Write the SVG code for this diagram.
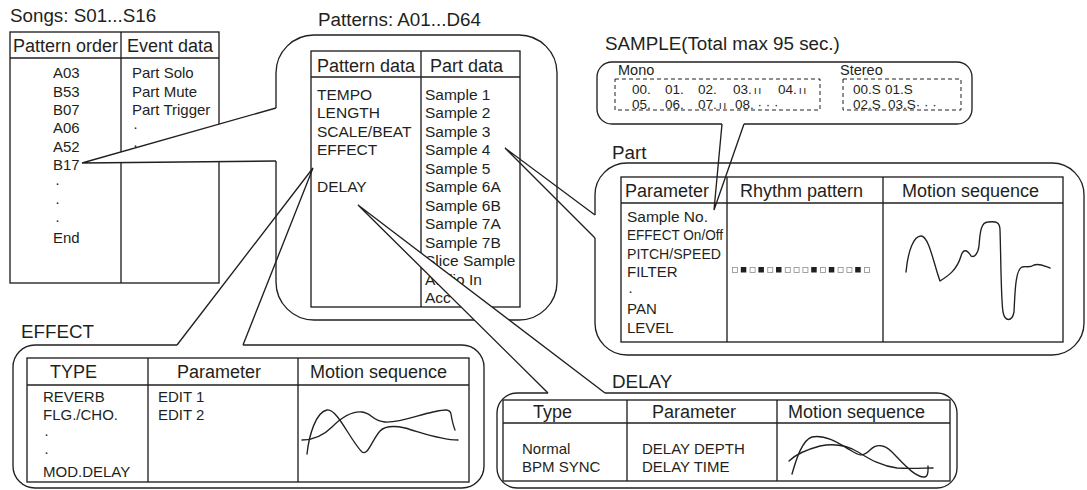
<svg xmlns="http://www.w3.org/2000/svg" width="1087" height="490" viewBox="0 0 1087 490">
<style>
text{font-family:"Liberation Sans",Arial,Helvetica,sans-serif;fill:#231f20}
.t{font-size:18.8px}
.h{font-size:18px}
.b{font-size:15px}
.p{font-size:15.5px}
.n{font-size:13.5px}
.ln{fill:none;stroke:#231f20;stroke-width:1.35}
.bx{fill:#fff;stroke:#231f20;stroke-width:1.35}
.tb{fill:#fff;stroke:#231f20;stroke-width:1.35}
.cw{fill:#fff;stroke:#231f20;stroke-width:1.35;stroke-linejoin:miter}
.cn{fill:none;stroke:#231f20;stroke-width:1.35}
.dash{fill:none;stroke:#231f20;stroke-width:1;stroke-dasharray:4 3}
.sq{fill:none;stroke:#9a9a9a;stroke-width:0.9}
.sf{fill:#231f20}
.cv{fill:none;stroke:#231f20;stroke-width:1.35;stroke-linejoin:round;stroke-linecap:round}
.mk{font-size:11px;letter-spacing:1.3px}
</style>

<g id="songs">
<text class="t" x="10" y="22">Songs: S01...S16</text>
<rect class="tb" x="10" y="32" width="209" height="251"/>
<line class="ln" x1="10" y1="58" x2="219" y2="58"/>
<line class="ln" x1="121" y1="32" x2="121" y2="283"/>
<text class="h" x="13" y="51.5">Pattern order</text>
<text class="h" x="127" y="51.5">Event data</text>
<g class="b">
<text x="53" y="78.4">A03</text>
<text x="53" y="96.7">B53</text>
<text x="53" y="115">B07</text>
<text x="53" y="133.3">A06</text>
<text x="53" y="151.6">A52</text>
<text x="53" y="169.9">B17</text>
<text x="55" y="188.2">·</text>
<text x="55" y="206.5">·</text>
<text x="55" y="224.8">·</text>
<text x="53" y="243.1">End</text>
<text x="132" y="78.4">Part Solo</text>
<text x="132" y="96.7">Part Mute</text>
<text x="132" y="115">Part Trigger</text>
<text x="133" y="132">·</text>
<text x="133" y="149.5">·</text>
</g>
</g>

<g id="patterns">
<text class="t" x="318" y="26">Patterns: A01...D64</text>
<path class="bx" d="M276,108 L276,73 A38,38 0 0 1 314,35 L519,35 A38,38 0 0 1 557,73 L557,282 A38,38 0 0 1 519,320 L314,320 A38,38 0 0 1 276,282 L276,161"/>
<rect class="tb" x="311" y="51" width="209" height="256"/>
<line class="ln" x1="311" y1="77" x2="520" y2="77"/>
<line class="ln" x1="421" y1="51" x2="421" y2="307"/>
<text class="h" x="317" y="72">Pattern data</text>
<text class="h" x="430" y="72">Part data</text>
<g class="p">
<text x="317" y="99.5">TEMPO</text>
<text x="317" y="118">LENGTH</text>
<text x="317" y="136.5">SCALE/BEAT</text>
<text x="317" y="155">EFFECT</text>
<text x="317" y="192">DELAY</text>
<text x="425" y="99.5">Sample 1</text>
<text x="425" y="118">Sample 2</text>
<text x="425" y="136.5">Sample 3</text>
<text x="425" y="155">Sample 4</text>
<text x="425" y="173.5">Sample 5</text>
<text x="425" y="192">Sample 6A</text>
<text x="425" y="210.5">Sample 6B</text>
<text x="425" y="229">Sample 7A</text>
<text x="425" y="247.5">Sample 7B</text>
<text x="425" y="266">Slice Sample</text>
<text x="425" y="284.5">Audio In</text>
<text x="425" y="303">Acc</text>
</g>
</g>

<g id="sample">
<text class="t" x="605" y="49.5">SAMPLE(Total max 95 sec.)</text>
<path class="ln" d="M722,124 L612,124 A15,15 0 0 1 597,109 L597,77 A15,15 0 0 1 612,62 L957,62 A15,15 0 0 1 972,77 L972,109 A15,15 0 0 1 957,124 L744,124"/>
<text x="618" y="75" font-size="14.5">Mono</text>
<text x="840" y="75" font-size="14.5">Stereo</text>
<rect class="dash" x="615" y="79" width="205" height="31"/>
<rect class="dash" x="843" y="79" width="118" height="31"/>
<g class="n">
<text x="632" y="94">00.</text>
<text x="665" y="94">01.</text>
<text x="698" y="94">02.</text>
<text x="733" y="94">03.<tspan class="mk" dx="2">ıı</tspan></text>
<text x="778" y="94">04.<tspan class="mk" dx="2">ıı</tspan></text>
<text x="632" y="108.5">05.</text>
<text x="665" y="108.5">06.</text>
<text x="698" y="108.5">07.<tspan class="mk" dx="2">ıı</tspan></text>
<text x="735" y="108.5">08. · · ·</text>
<text x="853" y="94">00.S</text>
<text x="885" y="94">01.S</text>
<text x="853" y="108.5">02.S</text>
<text x="888" y="108.5">03.S· · ·</text>
</g>
</g>

<g id="part">
<text class="t" x="612" y="159">Part</text>
<path class="ln" d="M595,215 L595,195 A32,32 0 0 1 627,163 L1052,163 A32,32 0 0 1 1084,195 L1084,323 A32,32 0 0 1 1052,355 L627,355 A32,32 0 0 1 595,323 L595,238"/>
<rect class="tb" x="621" y="177" width="442" height="165"/>
<line class="ln" x1="621" y1="203" x2="1063" y2="203"/>
<line class="ln" x1="727" y1="177" x2="727" y2="342"/>
<line class="ln" x1="883" y1="177" x2="883" y2="342"/>
<text class="h" x="625" y="196.5">Parameter</text>
<text class="h" x="740" y="196.5">Rhythm pattern</text>
<text class="h" x="902" y="196.5">Motion sequence</text>
<g class="b">
<text x="627" y="221.5" font-size="15.5">Sample No.</text>
<text x="627" y="240" textLength="96" lengthAdjust="spacingAndGlyphs">EFFECT On/Off</text>
<text x="627" y="258.5" textLength="94" lengthAdjust="spacingAndGlyphs">PITCH/SPEED</text>
<text x="627" y="277">FILTER</text>
<text x="628" y="295.5">·</text>
<text x="627" y="314">PAN</text>
<text x="627" y="332.5">LEVEL</text>
</g>
<g id="rhythm">
<rect class="sq" x="732.5" y="267.5" width="5" height="5"/>
<rect class="sf" x="740.8" y="267" width="5.5" height="5.5"/>
<rect class="sq" x="750.1" y="267.5" width="5" height="5"/>
<rect class="sf" x="758.4" y="267" width="5.5" height="5.5"/>
<rect class="sq" x="767.7" y="267.5" width="5" height="5"/>
<rect class="sf" x="776" y="267" width="5.5" height="5.5"/>
<rect class="sq" x="785.3" y="267.5" width="5" height="5"/>
<rect class="sq" x="794.1" y="267.5" width="5" height="5"/>
<rect class="sq" x="802.9" y="267.5" width="5" height="5"/>
<rect class="sf" x="811.2" y="267" width="5.5" height="5.5"/>
<rect class="sq" x="820.5" y="267.5" width="5" height="5"/>
<rect class="sf" x="828.8" y="267" width="5.5" height="5.5"/>
<rect class="sq" x="838.1" y="267.5" width="5" height="5"/>
<rect class="sq" x="846.9" y="267.5" width="5" height="5"/>
<rect class="sf" x="855.2" y="267" width="5.5" height="5.5"/>
<rect class="sq" x="864.5" y="267.5" width="5" height="5"/>
</g>
<path class="cv" d="M906,272 C908,250 914,236 921,236 C929,236 934,265 940,281 C948,276 957,270 961,256 C963,249 967,249 971,256 C974,258 978,254 979,246 C980,232 981,222 988,222 C996,221 1000,222 1000,230 C1001,260 1001,300 1003,312 C1005,322 1012,322 1014,312 C1015,295 1015,270 1022,267 C1027,266 1030,268 1034,265 C1040,263 1046,267 1050,268"/>
</g>

<g id="effect">
<text class="t" x="21" y="338">EFFECT</text>
<path class="ln" d="M243,345 L462,345 A22,22 0 0 1 484,367 L484,466 A22,22 0 0 1 462,488 L35,488 A22,22 0 0 1 13,466 L13,367 A22,22 0 0 1 35,345 L177,345"/>
<rect class="tb" x="27" y="358" width="442" height="124"/>
<line class="ln" x1="27" y1="385" x2="469" y2="385"/>
<line class="ln" x1="148" y1="358" x2="148" y2="482"/>
<line class="ln" x1="298" y1="358" x2="298" y2="482"/>
<text class="h" x="50" y="378">TYPE</text>
<text class="h" x="177" y="378">Parameter</text>
<text class="h" x="310" y="378">Motion sequence</text>
<g class="b">
<text x="43" y="401.5">REVERB</text>
<text x="43" y="420">FLG./CHO.</text>
<text x="44" y="438.5">·</text>
<text x="44" y="457">·</text>
<text x="43" y="477">MOD.DELAY</text>
<text x="158" y="401.5">EDIT 1</text>
<text x="158" y="420">EDIT 2</text>
</g>
<path class="cv" d="M307,454 C309,435 316,412 327,410 C337,408 350,440 362,452 C368,456 372,440 380,431 C386,425 396,426 405,428 C420,432 440,440 458,440"/>
<path class="cv" d="M302,440 C312,440 322,437 332,427 C342,417 352,411 362,412 C372,413 372,421 385,422 C400,423 418,415 433,412 C443,410 450,408 451,414 C452,420 453,425 455,430"/>
</g>

<g id="delay">
<text class="t" x="612" y="388">DELAY</text>
<path class="bx" d="M605,393 L937,393 A20,20 0 0 1 957,413 L957,468 A20,20 0 0 1 937,488 L517,488 A20,20 0 0 1 497,468 L497,413 A20,20 0 0 1 517,393 L548,393"/>
<rect class="tb" x="503" y="400" width="447" height="81"/>
<line class="ln" x1="503" y1="423" x2="950" y2="423"/>
<line class="ln" x1="627" y1="400" x2="627" y2="481"/>
<line class="ln" x1="777" y1="400" x2="777" y2="481"/>
<text class="h" x="533" y="418">Type</text>
<text class="h" x="652" y="418">Parameter</text>
<text class="h" x="788" y="418">Motion sequence</text>
<g class="b">
<text x="522" y="453.5">Normal</text>
<text x="522" y="472">BPM SYNC</text>
<text x="642" y="453.5">DELAY DEPTH</text>
<text x="642" y="472">DELAY TIME</text>
</g>
<path class="cv" d="M792,474 C796,460 802,440 812,437 C825,434 840,444 850,450 C858,455 862,458 870,450 C876,444 884,444 892,452 C902,462 915,478 925,477 C929,476 928,470 928,466"/>
<path class="cv" d="M789,461 C795,455 805,450 820,446 C835,443 848,446 858,452 C868,458 880,466 897,468 C910,469 925,468 933,468"/>
</g>

<g id="connectors">
<path class="cw" d="M276,108 L82,163 L276,161"/>
<path class="cn" d="M595,215 L505,148 L595,238"/>
<path class="cn" d="M722,124 L714,210 L744,124"/>
<path class="cn" d="M177,345 L313,168 L243,345"/>
<path class="cw" d="M548,393 L358,205 L605,393"/>
</g>
</svg>
